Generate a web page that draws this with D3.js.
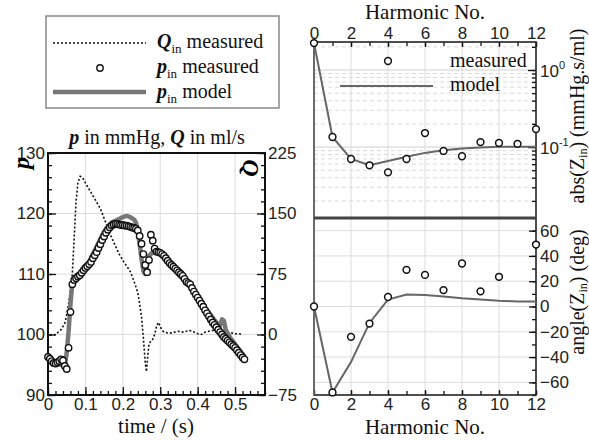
<!DOCTYPE html>
<html>
<head>
<meta charset="utf-8">
<script src="https://cdn.jsdelivr.net/npm/d3@7"></script>
<style>
  body { margin: 0; background: #fff; }
  svg { display: block; }
</style>
</head>
<body>
<svg id="chart" width="589" height="440"></svg>
<script>
// ---- data ----
// left panel: [time (s), value]
const qMeasured = [
  [0.005, 0], [0.015, -1], [0.025, 2], [0.035, 6], [0.045, 14], [0.050, 24], [0.055, 38],
  [0.060, 56], [0.065, 75], [0.070, 120], [0.075, 165], [0.080, 188], [0.086, 196],
  [0.092, 195], [0.100, 188], [0.110, 180], [0.120, 172], [0.130, 164], [0.140, 156],
  [0.150, 144], [0.160, 132], [0.170, 120], [0.180, 110], [0.190, 100], [0.200, 92],
  [0.210, 85], [0.220, 78], [0.230, 66], [0.240, 52], [0.245, 38], [0.250, 22],
  [0.255, -5], [0.260, -35], [0.263, -46], [0.266, -30], [0.270, -12], [0.275, -8],
  [0.280, -6], [0.285, 0], [0.290, 10], [0.295, 15], [0.300, 10], [0.305, 5], [0.310, 3],
  [0.320, 2], [0.330, 2], [0.340, 3], [0.350, 4], [0.360, 3], [0.370, 4], [0.380, 5],
  [0.390, 3], [0.400, 1], [0.410, 0], [0.420, 3], [0.430, 4], [0.440, 5], [0.450, 6],
  [0.460, 4], [0.470, 3], [0.480, 3], [0.490, 2], [0.500, 1], [0.510, 1], [0.520, 0]
];

const pMeasured = [
  [0.000, 96.3], [0.005, 96.0], [0.010, 95.6], [0.015, 95.3], [0.020, 95.2], [0.025, 95.4],
  [0.030, 95.6], [0.035, 95.9], [0.040, 95.7], [0.045, 94.8], [0.050, 94.3], [0.055, 97.8],
  [0.060, 103.7], [0.065, 108.3], [0.070, 109.0], [0.075, 109.3], [0.080, 109.6], [0.085, 109.8],
  [0.090, 110.2], [0.095, 110.6], [0.100, 111.0], [0.105, 111.3], [0.110, 111.6], [0.115, 112.0],
  [0.120, 112.6], [0.125, 113.1], [0.130, 113.6], [0.135, 114.3], [0.140, 114.9], [0.145, 115.6],
  [0.150, 116.2], [0.155, 116.8], [0.160, 117.3], [0.165, 117.7], [0.170, 118.0], [0.175, 118.2],
  [0.180, 118.3], [0.185, 118.3], [0.190, 118.2], [0.195, 118.1], [0.200, 118.1], [0.205, 118.0],
  [0.210, 118.0], [0.215, 117.9], [0.220, 117.8], [0.225, 117.7], [0.230, 117.6], [0.235, 117.5],
  [0.240, 117.2], [0.245, 116.3], [0.250, 115.0], [0.255, 113.3], [0.260, 111.5], [0.265, 110.3],
  [0.270, 112.3], [0.275, 116.5], [0.280, 115.5], [0.285, 114.2], [0.290, 113.7], [0.295, 113.6],
  [0.300, 113.5], [0.305, 113.3], [0.310, 113.0], [0.315, 112.6], [0.320, 112.2], [0.325, 111.8],
  [0.330, 111.5], [0.335, 111.2], [0.340, 110.9], [0.345, 110.6], [0.350, 110.3], [0.355, 110.0],
  [0.360, 109.7], [0.365, 109.2], [0.370, 108.7], [0.375, 108.5], [0.380, 108.3], [0.385, 107.7],
  [0.390, 107.1], [0.395, 106.6], [0.400, 106.1], [0.405, 105.6], [0.410, 105.1], [0.415, 104.6],
  [0.420, 104.0], [0.425, 103.5], [0.430, 103.0], [0.435, 102.5], [0.440, 102.0], [0.445, 101.6],
  [0.450, 101.2], [0.455, 100.8], [0.460, 100.4], [0.465, 100.0], [0.470, 99.6], [0.475, 99.3],
  [0.480, 99.0], [0.485, 98.7], [0.490, 98.4], [0.495, 98.1], [0.500, 97.8], [0.505, 97.4],
  [0.510, 97.0], [0.515, 96.6], [0.520, 96.2], [0.525, 95.9]
];

const pModel = [
  [0.000, 96.5], [0.010, 95.8], [0.020, 95.3], [0.030, 95.0], [0.040, 95.0], [0.045, 94.8],
  [0.050, 97.0], [0.055, 100.5], [0.060, 105.0], [0.065, 108.5], [0.070, 109.3], [0.080, 109.8],
  [0.090, 110.5], [0.100, 111.0], [0.110, 112.0], [0.120, 113.3], [0.130, 114.5], [0.140, 115.8],
  [0.150, 117.0], [0.160, 117.9], [0.170, 118.5], [0.180, 118.8], [0.190, 119.1], [0.200, 119.4],
  [0.210, 119.6], [0.220, 119.4], [0.230, 119.0], [0.235, 118.5], [0.240, 117.0], [0.245, 115.0],
  [0.250, 112.5], [0.255, 110.5], [0.260, 110.0], [0.265, 111.5], [0.270, 113.0], [0.280, 113.6],
  [0.290, 113.6], [0.300, 113.3], [0.310, 112.8], [0.320, 112.0], [0.330, 111.3], [0.340, 110.6],
  [0.350, 109.8], [0.360, 109.2], [0.370, 108.5], [0.380, 107.8], [0.390, 107.2], [0.400, 106.4],
  [0.410, 105.5], [0.420, 104.5], [0.430, 103.6], [0.440, 102.8], [0.450, 102.0], [0.460, 101.5],
  [0.465, 102.5], [0.470, 102.3], [0.475, 100.8], [0.480, 100.2], [0.490, 99.2], [0.500, 98.4],
  [0.510, 97.6], [0.520, 96.8], [0.525, 96.4]
];

// right panels
const harmonics = [0, 1, 2, 3, 4, 5, 6, 7, 8, 9, 10, 11, 12];
const absMeasured = [2.24, 0.135, 0.070, 0.058, 0.047, 0.070, 0.152, 0.089, 0.076, 0.116, 0.113, 0.110, 0.171];
const absModel = [2.24, 0.135, 0.070, 0.058, 0.066, 0.075, 0.084, 0.091, 0.096, 0.099, 0.101, 0.101, 0.101];
const angleMeasured = [0, -68, -24, -13.5, 7.5, 29, 25, 13, 34, 12, 23.5, null, 49];
const angleModel = [0, -68, -44, -13, 5.5, 9.5, 9, 8, 6.5, 5.5, 4.5, 4, 4];

const pTicks = [90, 100, 110, 120, 130];
const qTicks = [-75, 0, 75, 150, 225];
const timeTicks = [0, 0.1, 0.2, 0.3, 0.4, 0.5];
const harmonicTicks = [0, 2, 4, 6, 8, 10, 12];
const angleTicks = [-60, -40, -20, 0, 20, 40, 60];

const SERIF = '"Liberation Serif", "Times New Roman", serif';
const SANS = '"Liberation Sans", Arial, sans-serif';

const svg = d3.select("#chart");

// ---------------- left panel ----------------
const L = {left: 48, right: 265, top: 153, bottom: 395};
const x = d3.scaleLinear().domain([0, 0.58]).range([L.left, L.right]);
const y = d3.scaleLinear().domain([90, 130]).range([L.bottom, L.top]);
const yQ = d3.scaleLinear().domain([-75, 225]).range([L.bottom, L.top]);

const left = svg.append("g");

// grid
left.selectAll(".vg").data(timeTicks.slice(1)).enter().append("line")
  .attr("x1", d => x(d)).attr("x2", d => x(d))
  .attr("y1", L.top).attr("y2", L.bottom)
  .attr("stroke", "#dcdcdc").attr("stroke-width", 1);
left.selectAll(".hg").data([100, 110, 120]).enter().append("line")
  .attr("x1", L.left).attr("x2", L.right)
  .attr("y1", d => y(d)).attr("y2", d => y(d))
  .attr("stroke", "#dcdcdc").attr("stroke-width", 1);

// axes
function styleAxis(g) {
  g.select(".domain").remove();
  g.selectAll("line").attr("stroke", "#111").attr("stroke-width", 1.3);
  g.selectAll("text").attr("font-family", SANS).attr("font-size", 17).attr("fill", "#222");
}

left.append("g").attr("transform", `translate(${L.left},0)`)
  .call(d3.axisLeft(y).tickValues(d3.range(90, 131, 2)).tickSize(-4).tickFormat(""))
  .call(styleAxis);
left.append("g").attr("transform", `translate(${L.left},0)`)
  .call(d3.axisLeft(y).tickValues(pTicks).tickSize(-8).tickPadding(3).tickFormat(d3.format("d")))
  .call(styleAxis);

left.append("g").attr("transform", `translate(${L.right},0)`)
  .call(d3.axisRight(yQ).tickValues(d3.range(-75, 226, 15)).tickSize(-4).tickFormat(""))
  .call(styleAxis);
left.append("g").attr("transform", `translate(${L.right},0)`)
  .call(d3.axisRight(yQ).tickValues(qTicks).tickSize(-8).tickPadding(3).tickFormat(d3.format("d")))
  .call(styleAxis);

left.append("g").attr("transform", `translate(0,${L.bottom})`)
  .call(d3.axisBottom(x).tickValues(d3.range(0, 0.581, 0.02)).tickSize(-4).tickFormat(""))
  .call(styleAxis);
left.append("g").attr("transform", `translate(0,${L.bottom})`)
  .call(d3.axisBottom(x).tickValues(timeTicks).tickSize(-8).tickPadding(3).tickFormat(d => d === 0 ? "0" : d3.format(".1f")(d)))
  .call(styleAxis);

// frame
left.append("rect")
  .attr("x", L.left).attr("y", L.top)
  .attr("width", L.right - L.left).attr("height", L.bottom - L.top)
  .attr("fill", "none").attr("stroke", "#111").attr("stroke-width", 2);

// curves
left.append("path").datum(qMeasured)
  .attr("d", d3.line().x(d => x(d[0])).y(d => yQ(d[1])))
  .attr("fill", "none").attr("stroke", "#111").attr("stroke-width", 1.6)
  .attr("stroke-dasharray", "2,2");

left.append("path").datum(pModel)
  .attr("d", d3.line().x(d => x(d[0])).y(d => y(d[1])))
  .attr("fill", "none").attr("stroke", "#777").attr("stroke-width", 4.5)
  .attr("stroke-linejoin", "round");

left.selectAll(".pm").data(pMeasured).enter().append("circle")
  .attr("cx", d => x(d[0])).attr("cy", d => y(d[1])).attr("r", 3.2)
  .attr("fill", "#fff").attr("stroke", "#111").attr("stroke-width", 1.4);

// labels
left.append("text")
  .attr("transform", "translate(29,163) rotate(-90)")
  .attr("text-anchor", "middle")
  .attr("font-family", SERIF).attr("font-size", 24).attr("font-style", "italic").attr("font-weight", "bold")
  .text("p");
left.append("text")
  .attr("transform", "translate(243,168) rotate(90)")
  .attr("text-anchor", "middle")
  .attr("font-family", SERIF).attr("font-size", 24).attr("font-style", "italic").attr("font-weight", "bold")
  .text("Q");

const title = left.append("text")
  .attr("x", 157).attr("y", 144).attr("text-anchor", "middle")
  .attr("font-family", SERIF).attr("font-size", 20).attr("fill", "#111");
title.append("tspan").attr("font-style", "italic").attr("font-weight", "bold").text("p");
title.append("tspan").text(" in mmHg,  ");
title.append("tspan").attr("font-style", "italic").attr("font-weight", "bold").text("Q");
title.append("tspan").text(" in ml/s");

left.append("text")
  .attr("x", 156).attr("y", 433).attr("text-anchor", "middle")
  .attr("font-family", SERIF).attr("font-size", 21).attr("fill", "#111")
  .text("time / (s)");

// legend (left)
const leg = svg.append("g");
leg.append("rect").attr("x", 46).attr("y", 16).attr("width", 233).attr("height", 92)
  .attr("fill", "#fff").attr("stroke", "#888").attr("stroke-width", 1.5);
leg.append("line").attr("x1", 53).attr("x2", 146).attr("y1", 43).attr("y2", 43)
  .attr("stroke", "#111").attr("stroke-width", 1.6).attr("stroke-dasharray", "2,2");
leg.append("circle").attr("cx", 100).attr("cy", 68).attr("r", 3.2)
  .attr("fill", "#fff").attr("stroke", "#111").attr("stroke-width", 1.4);
leg.append("line").attr("x1", 53).attr("x2", 146).attr("y1", 92).attr("y2", 92)
  .attr("stroke", "#777").attr("stroke-width", 4.5);

const legRows = [
  {sym: "Q", rest: " measured", y: 48},
  {sym: "p", rest: " measured", y: 73},
  {sym: "p", rest: " model", y: 98}
];
legRows.forEach(r => {
  const t = leg.append("text").attr("x", 157).attr("y", r.y)
    .attr("font-family", SERIF).attr("font-size", 20).attr("fill", "#111");
  t.append("tspan").attr("font-style", "italic").attr("font-weight", "bold").text(r.sym);
  t.append("tspan").attr("font-size", 13).attr("dy", 5).text("in");
  t.append("tspan").attr("dy", -5).text(r.rest);
});

// ---------------- right panels ----------------
const R = {left: 314, right: 536, top: 42, mid: 218, bottom: 395};
const xh = d3.scaleLinear().domain([0, 12]).range([R.left, R.right]);
const yAbs = d3.scaleLog().domain([0.012, 2.31]).range([R.mid, R.top]);
const yAng = d3.scaleLinear().domain([-70, 70]).range([R.bottom, R.mid]);

const right = svg.append("g");

// grid top
const minorLog = [];
[0.01, 0.1, 1].forEach(dec => {
  for (let k = 1; k <= 9; k++) {
    const v = dec * k;
    if (v >= 0.012 && v <= 2.31) minorLog.push(v);
  }
});
const isDecade = d => Math.abs(Math.log10(d) - Math.round(Math.log10(d))) < 1e-6;
right.selectAll(".lg").data(minorLog).enter().append("line")
  .attr("x1", R.left).attr("x2", R.right)
  .attr("y1", d => yAbs(d)).attr("y2", d => yAbs(d))
  .attr("stroke", d => isDecade(d) ? "#d0d0d0" : "#dadada")
  .attr("stroke-dasharray", d => isDecade(d) ? null : "4,3")
  .attr("stroke-width", 1);
right.selectAll(".vgt").data(harmonicTicks.slice(1, -1)).enter().append("line")
  .attr("x1", d => xh(d)).attr("x2", d => xh(d))
  .attr("y1", R.top).attr("y2", R.bottom)
  .attr("stroke", "#dcdcdc").attr("stroke-width", 1);
// grid bottom
right.selectAll(".agl").data(angleTicks).enter().append("line")
  .attr("x1", R.left).attr("x2", R.right)
  .attr("y1", d => yAng(d)).attr("y2", d => yAng(d))
  .attr("stroke", "#dcdcdc").attr("stroke-width", 1);

// axes
right.append("g").attr("transform", `translate(0,${R.top})`)
  .call(d3.axisTop(xh).tickValues(d3.range(0, 13)).tickSize(-4).tickFormat(""))
  .call(styleAxis);
right.append("g").attr("transform", `translate(0,${R.top})`)
  .call(d3.axisTop(xh).tickValues(harmonicTicks).tickSize(-5).tickPadding(3).tickFormat(d3.format("d")))
  .call(styleAxis);
right.append("g").attr("transform", `translate(0,${R.bottom})`)
  .call(d3.axisBottom(xh).tickValues(d3.range(0, 13)).tickSize(-4).tickFormat(""))
  .call(styleAxis);
right.append("g").attr("transform", `translate(0,${R.bottom})`)
  .call(d3.axisBottom(xh).tickValues(harmonicTicks).tickSize(-5).tickPadding(3).tickFormat(d3.format("d")))
  .call(styleAxis);

right.append("g").attr("transform", `translate(${R.right},0)`)
  .call(d3.axisRight(yAbs).tickValues(minorLog).tickSize(-4).tickFormat(""))
  .call(styleAxis);
right.append("g").attr("transform", `translate(${R.right},0)`)
  .call(d3.axisRight(yAbs).tickValues([0.1, 1]).tickSize(-8).tickFormat(""))
  .call(styleAxis);
[{v: 1, e: "0"}, {v: 0.1, e: "-1"}].forEach(l => {
  const t = right.append("text").attr("x", 540).attr("y", yAbs(l.v) + 7)
    .attr("font-family", SANS).attr("font-size", 17).attr("fill", "#222");
  t.append("tspan").text("10");
  t.append("tspan").attr("font-size", 11).attr("dy", -8).text(l.e);
});

right.append("g").attr("transform", `translate(${R.right},0)`)
  .call(d3.axisRight(yAng).tickValues(d3.range(-70, 71, 10)).tickSize(-4).tickFormat(""))
  .call(styleAxis);
right.append("g").attr("transform", `translate(${R.right},0)`)
  .call(d3.axisRight(yAng).tickValues(angleTicks).tickSize(-7).tickPadding(4).tickFormat(d3.format("d")))
  .call(styleAxis);

// frames
right.append("rect")
  .attr("x", R.left).attr("y", R.top).attr("width", R.right - R.left).attr("height", R.bottom - R.top)
  .attr("fill", "none").attr("stroke", "#222").attr("stroke-width", 1.6);
right.append("line").attr("x1", R.left).attr("x2", R.left).attr("y1", R.top).attr("y2", R.bottom)
  .attr("stroke", "#777").attr("stroke-width", 1.4);
right.append("line").attr("x1", R.left).attr("x2", R.right).attr("y1", R.mid).attr("y2", R.mid)
  .attr("stroke", "#444").attr("stroke-width", 3);

// model lines
right.append("path").datum(harmonics)
  .attr("d", d3.line().x(d => xh(d)).y((d, i) => yAbs(absModel[i])))
  .attr("fill", "none").attr("stroke", "#666").attr("stroke-width", 2);
right.append("path").datum(harmonics)
  .attr("d", d3.line().x(d => xh(d)).y((d, i) => yAng(angleModel[i])))
  .attr("fill", "none").attr("stroke", "#666").attr("stroke-width", 2);

// measured markers
right.selectAll(".am").data(harmonics).enter().append("circle")
  .attr("cx", d => xh(d)).attr("cy", (d, i) => yAbs(absMeasured[i])).attr("r", 3.4)
  .attr("fill", "#fff").attr("stroke", "#111").attr("stroke-width", 1.5);
right.selectAll(".gm").data(harmonics.filter((d, i) => angleMeasured[i] !== null)).enter().append("circle")
  .attr("cx", d => xh(d)).attr("cy", d => yAng(angleMeasured[d])).attr("r", 3.4)
  .attr("fill", "#fff").attr("stroke", "#111").attr("stroke-width", 1.5);

// legend (right)
right.append("circle").attr("cx", xh(4)).attr("cy", 61).attr("r", 3.4)
  .attr("fill", "#fff").attr("stroke", "#111").attr("stroke-width", 1.5);
right.append("line").attr("x1", 340).attr("x2", 433).attr("y1", 86).attr("y2", 86)
  .attr("stroke", "#666").attr("stroke-width", 2);
right.append("text").attr("x", 450).attr("y", 67)
  .attr("font-family", SERIF).attr("font-size", 20).attr("fill", "#111").text("measured");
right.append("text").attr("x", 450).attr("y", 91)
  .attr("font-family", SERIF).attr("font-size", 20).attr("fill", "#111").text("model");

// titles
right.append("text").attr("x", 425).attr("y", 19).attr("text-anchor", "middle")
  .attr("font-family", SERIF).attr("font-size", 21).attr("fill", "#111").text("Harmonic No.");
right.append("text").attr("x", 425).attr("y", 434).attr("text-anchor", "middle")
  .attr("font-family", SERIF).attr("font-size", 21).attr("fill", "#111").text("Harmonic No.");

function rotatedTitle(cx, cy, before, after) {
  const t = right.append("text")
    .attr("transform", `translate(${cx},${cy}) rotate(-90)`)
    .attr("text-anchor", "middle")
    .attr("font-family", SERIF).attr("font-size", 20).attr("fill", "#111");
  t.append("tspan").text(before);
  t.append("tspan").attr("font-size", 12).attr("dy", 3).text("in");
  t.append("tspan").attr("dy", -3).text(after);
}
rotatedTitle(584, 116, "abs(Z", ") (mmHg.s/ml)");
rotatedTitle(584, 292, "angle(Z", ") (deg)");
</script>
</body>
</html>
